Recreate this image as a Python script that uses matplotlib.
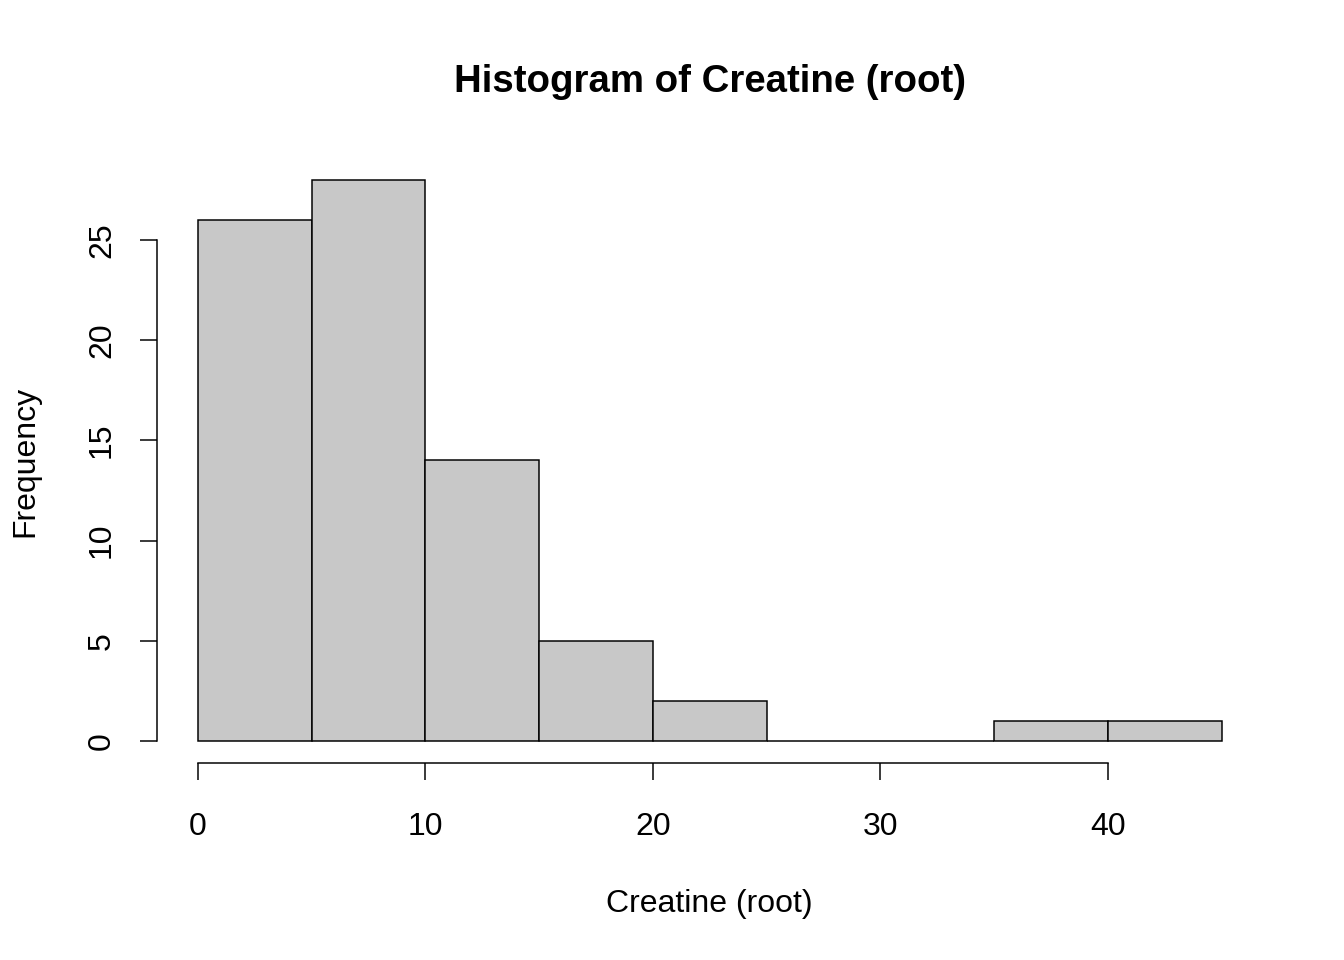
import numpy as np
import matplotlib
matplotlib.use("Agg")
import matplotlib.pyplot as plt

plt.rcParams['font.family'] = ['Liberation Sans', 'DejaVu Sans']

# histogram of Creatine (root), bins of width 5
bin_edges = [0, 5, 10, 15, 20, 25, 30, 35, 40, 45]
counts = [26, 28, 14, 5, 2, 0, 0, 1, 1]
x_ticks = [0, 10, 20, 30, 40]
y_ticks = [0, 5, 10, 15, 20, 25]

fig = plt.figure(figsize=(1344 / 144, 960 / 144), dpi=144)
ax = fig.add_axes([0.1168, 0.2048, 0.9395 - 0.1168, 0.836 - 0.2048])

lefts = bin_edges[:-1]
widths = np.diff(bin_edges)
ax.bar(lefts, counts, width=widths, align='edge', color='#C8C8C8',
       edgecolor='black', linewidth=0.75)

ax.set_xlim(-1.8, 46.8)
ax.set_ylim(-1.12, 29.12)

for s in ['top', 'right']:
  ax.spines[s].set_visible(False)
ax.spines['left'].set_bounds(0, 25)
ax.spines['bottom'].set_bounds(0, 40)
ax.spines['left'].set_linewidth(0.75)
ax.spines['bottom'].set_linewidth(0.75)

ax.set_xticks(x_ticks)
ax.set_yticks(y_ticks)
ax.set_yticklabels([str(v) for v in y_ticks], rotation=90, va='center')
ax.tick_params(axis='both', length=8.5, width=0.75, labelsize=16)
ax.tick_params(axis='x', pad=16)
ax.tick_params(axis='y', pad=11.5)

fig.text(0.528, 1 - 82 / 960, 'Histogram of Creatine (root)', ha='center',
         va='center', fontsize=19.2, fontweight='bold')
fig.text(0.528, 1 - 904 / 960, 'Creatine (root)', ha='center', va='center', fontsize=16)
fig.text(25 / 1344, 1 - 461 / 960, 'Frequency', ha='center', va='center',
         rotation=90, fontsize=16)

fig.savefig('out.png', dpi=144)
